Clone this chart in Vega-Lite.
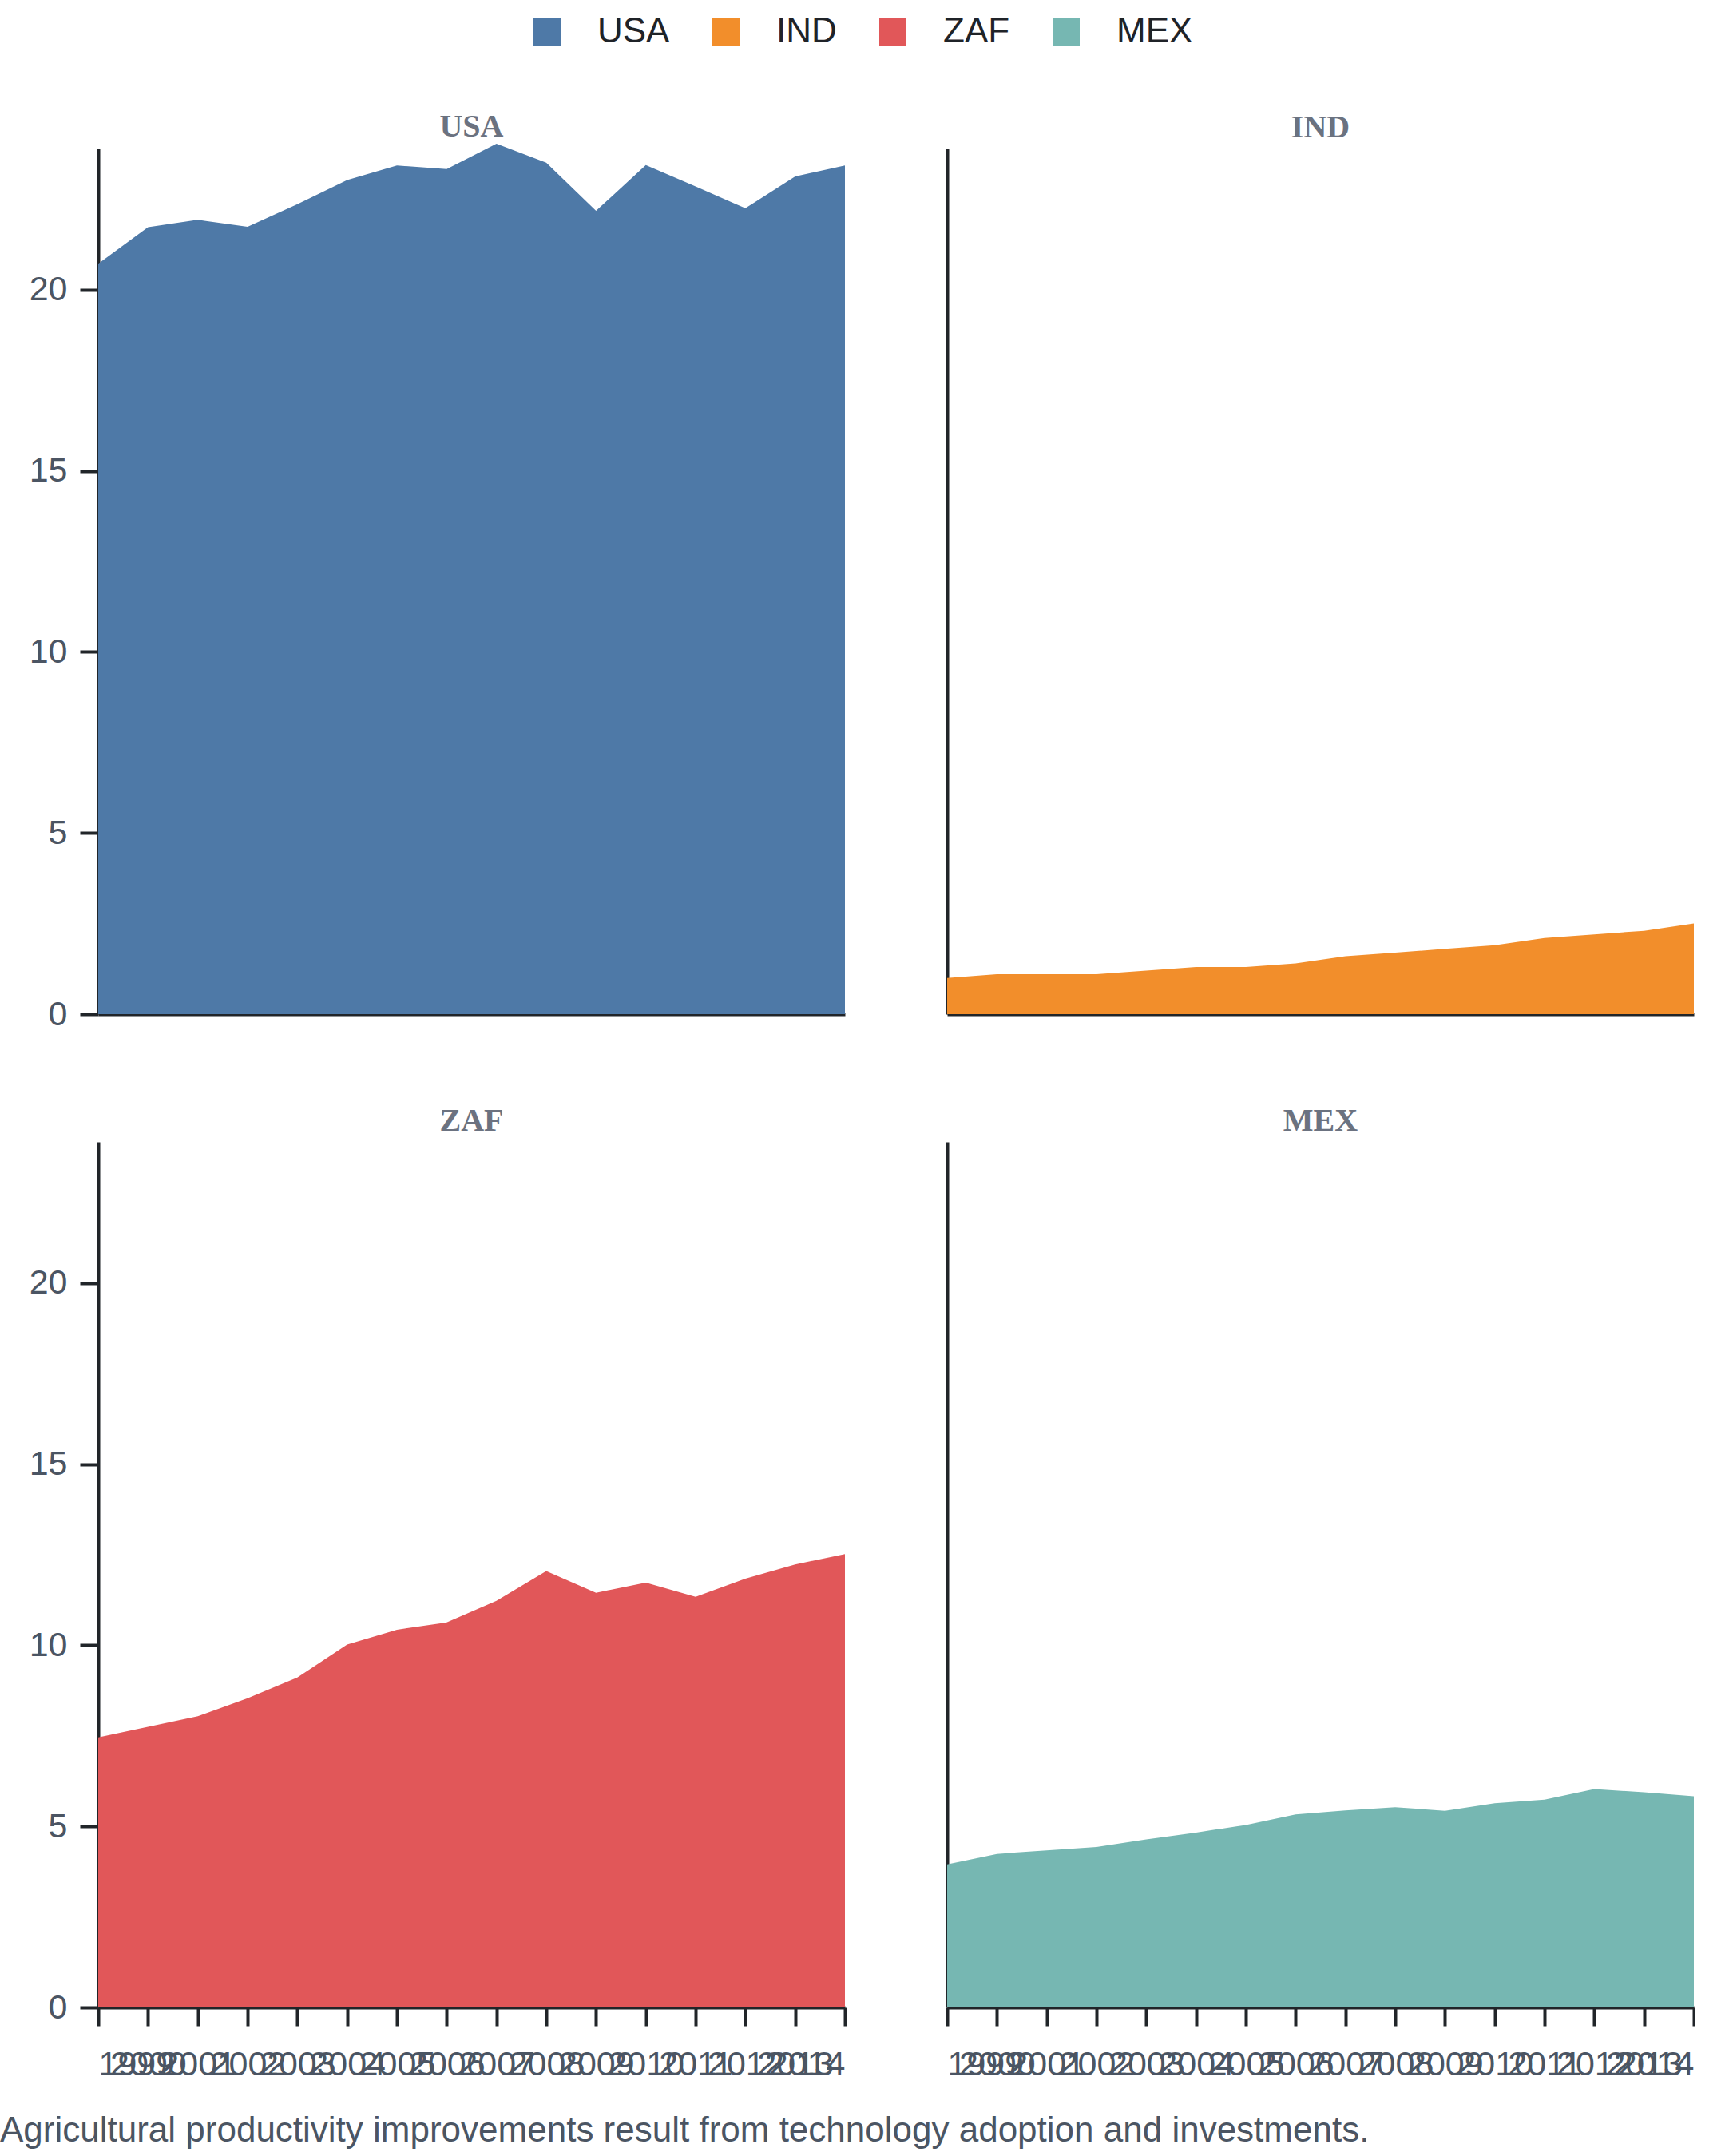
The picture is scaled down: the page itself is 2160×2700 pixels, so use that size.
{
  "$schema": "https://vega.github.io/schema/vega-lite/v6.json",
  "padding": {"top": 18, "left": 0, "right": 0, "bottom": 0},
  "background": "white",
  "title": {
    "text": "Agricultural productivity improvements result from technology adoption and investments.",
    "orient": "bottom",
    "anchor": "start",
    "font": "Liberation Sans",
    "fontSize": 44,
    "fontWeight": "normal",
    "color": "#4b5563",
    "offset": 40
  },
  "data": {
    "values": [
      {"country": "USA", "year": 1999, "value": 20.72},
      {"country": "USA", "year": 2000, "value": 21.73},
      {"country": "USA", "year": 2001, "value": 21.93},
      {"country": "USA", "year": 2002, "value": 21.74},
      {"country": "USA", "year": 2003, "value": 22.36},
      {"country": "USA", "year": 2004, "value": 23.03},
      {"country": "USA", "year": 2005, "value": 23.43},
      {"country": "USA", "year": 2006, "value": 23.33},
      {"country": "USA", "year": 2007, "value": 24.03},
      {"country": "USA", "year": 2008, "value": 23.51},
      {"country": "USA", "year": 2009, "value": 22.18},
      {"country": "USA", "year": 2010, "value": 23.44},
      {"country": "USA", "year": 2011, "value": 22.85},
      {"country": "USA", "year": 2012, "value": 22.25},
      {"country": "USA", "year": 2013, "value": 23.13},
      {"country": "USA", "year": 2014, "value": 23.43},
      {"country": "IND", "year": 1999, "value": 1.0},
      {"country": "IND", "year": 2000, "value": 1.1},
      {"country": "IND", "year": 2001, "value": 1.1},
      {"country": "IND", "year": 2002, "value": 1.1},
      {"country": "IND", "year": 2003, "value": 1.2},
      {"country": "IND", "year": 2004, "value": 1.3},
      {"country": "IND", "year": 2005, "value": 1.3},
      {"country": "IND", "year": 2006, "value": 1.4},
      {"country": "IND", "year": 2007, "value": 1.6},
      {"country": "IND", "year": 2008, "value": 1.7},
      {"country": "IND", "year": 2009, "value": 1.8},
      {"country": "IND", "year": 2010, "value": 1.9},
      {"country": "IND", "year": 2011, "value": 2.1},
      {"country": "IND", "year": 2012, "value": 2.2},
      {"country": "IND", "year": 2013, "value": 2.3},
      {"country": "IND", "year": 2014, "value": 2.5},
      {"country": "ZAF", "year": 1999, "value": 7.46},
      {"country": "ZAF", "year": 2000, "value": 7.75},
      {"country": "ZAF", "year": 2001, "value": 8.04},
      {"country": "ZAF", "year": 2002, "value": 8.54},
      {"country": "ZAF", "year": 2003, "value": 9.11},
      {"country": "ZAF", "year": 2004, "value": 10.02},
      {"country": "ZAF", "year": 2005, "value": 10.43},
      {"country": "ZAF", "year": 2006, "value": 10.63},
      {"country": "ZAF", "year": 2007, "value": 11.23},
      {"country": "ZAF", "year": 2008, "value": 12.05},
      {"country": "ZAF", "year": 2009, "value": 11.45},
      {"country": "ZAF", "year": 2010, "value": 11.73},
      {"country": "ZAF", "year": 2011, "value": 11.34},
      {"country": "ZAF", "year": 2012, "value": 11.84},
      {"country": "ZAF", "year": 2013, "value": 12.23},
      {"country": "ZAF", "year": 2014, "value": 12.52},
      {"country": "MEX", "year": 1999, "value": 3.95},
      {"country": "MEX", "year": 2000, "value": 4.24},
      {"country": "MEX", "year": 2001, "value": 4.34},
      {"country": "MEX", "year": 2002, "value": 4.43},
      {"country": "MEX", "year": 2003, "value": 4.64},
      {"country": "MEX", "year": 2004, "value": 4.83},
      {"country": "MEX", "year": 2005, "value": 5.04},
      {"country": "MEX", "year": 2006, "value": 5.33},
      {"country": "MEX", "year": 2007, "value": 5.44},
      {"country": "MEX", "year": 2008, "value": 5.53},
      {"country": "MEX", "year": 2009, "value": 5.43},
      {"country": "MEX", "year": 2010, "value": 5.64},
      {"country": "MEX", "year": 2011, "value": 5.74},
      {"country": "MEX", "year": 2012, "value": 6.03},
      {"country": "MEX", "year": 2013, "value": 5.94},
      {"country": "MEX", "year": 2014, "value": 5.83}
    ]
  },
  "columns": 2,
  "spacing": {"row": 160, "column": 128},
  "bounds": "flush",
  "concat": [
    {
      "width": 935,
      "height": 1084,
      "title": {"text": "USA", "dy": 5},
      "transform": [{"filter": "datum.country === 'USA'"}],
      "mark": {"type": "area", "opacity": 1},
      "encoding": {
        "x": {"field": "year", "type": "quantitative", "scale": {"domain": [1999, 2014], "nice": false, "zero": false},
              "axis": {"labels": false, "ticks": false}},
        "y": {"field": "value", "type": "quantitative", "scale": {"domain": [0, 23.9], "nice": false},
              "axis": {"values": [0, 5, 10, 15, 20], "minExtent": 123}},
        "color": {"field": "country", "type": "nominal",
                  "scale": {"domain": ["USA", "IND", "ZAF", "MEX"], "range": ["#4e79a7", "#f28e2b", "#e15759", "#76b7b2"]},
                  "legend": {"orient": "none", "direction": "horizontal", "legendX": 540, "legendY": -168, "title": null,
                             "symbolType": "square", "symbolSize": 1156, "symbolStrokeWidth": 0, "symbolOpacity": 1,
                             "labelFont": "Liberation Sans", "labelFontSize": 44, "labelColor": "#1f2328",
                             "labelOffset": 41, "columnPadding": 48, "padding": 0}}
      }
    },
    {
      "width": 935,
      "height": 1084,
      "title": {"text": "IND"},
      "transform": [{"filter": "datum.country === 'IND'"}],
      "mark": {"type": "area", "opacity": 1},
      "encoding": {
        "x": {"field": "year", "type": "quantitative", "scale": {"domain": [1999, 2014], "nice": false, "zero": false},
              "axis": {"labels": false, "ticks": false}},
        "y": {"field": "value", "type": "quantitative", "scale": {"domain": [0, 23.9], "nice": false},
              "axis": {"labels": false, "ticks": false}},
        "color": {"field": "country", "type": "nominal",
                  "scale": {"domain": ["USA", "IND", "ZAF", "MEX"], "range": ["#4e79a7", "#f28e2b", "#e15759", "#76b7b2"]},
                  "legend": {"orient": "none", "direction": "horizontal", "legendX": 540, "legendY": -168, "title": null,
                             "symbolType": "square", "symbolSize": 1156, "symbolStrokeWidth": 0, "symbolOpacity": 1,
                             "labelFont": "Liberation Sans", "labelFontSize": 44, "labelColor": "#1f2328",
                             "labelOffset": 41, "columnPadding": 48, "padding": 0}}
      }
    },
    {
      "width": 935,
      "height": 1084,
      "title": {"text": "ZAF"},
      "transform": [{"filter": "datum.country === 'ZAF'"}],
      "mark": {"type": "area", "opacity": 1},
      "encoding": {
        "x": {"field": "year", "type": "quantitative", "scale": {"domain": [1999, 2014], "nice": false, "zero": false},
              "axis": {"values": [1999, 2000, 2001, 2002, 2003, 2004, 2005, 2006, 2007, 2008, 2009, 2010, 2011, 2012, 2013, 2014],
                       "format": "d", "labelOverlap": false, "labelBound": false, "labelFlush": true, "labelPadding": 27}},
        "y": {"field": "value", "type": "quantitative", "scale": {"domain": [0, 23.9], "nice": false},
              "axis": {"values": [0, 5, 10, 15, 20], "minExtent": 123}},
        "color": {"field": "country", "type": "nominal",
                  "scale": {"domain": ["USA", "IND", "ZAF", "MEX"], "range": ["#4e79a7", "#f28e2b", "#e15759", "#76b7b2"]},
                  "legend": {"orient": "none", "direction": "horizontal", "legendX": 540, "legendY": -168, "title": null,
                             "symbolType": "square", "symbolSize": 1156, "symbolStrokeWidth": 0, "symbolOpacity": 1,
                             "labelFont": "Liberation Sans", "labelFontSize": 44, "labelColor": "#1f2328",
                             "labelOffset": 41, "columnPadding": 48, "padding": 0}}
      }
    },
    {
      "width": 935,
      "height": 1084,
      "title": {"text": "MEX"},
      "transform": [{"filter": "datum.country === 'MEX'"}],
      "mark": {"type": "area", "opacity": 1},
      "encoding": {
        "x": {"field": "year", "type": "quantitative", "scale": {"domain": [1999, 2014], "nice": false, "zero": false},
              "axis": {"values": [1999, 2000, 2001, 2002, 2003, 2004, 2005, 2006, 2007, 2008, 2009, 2010, 2011, 2012, 2013, 2014],
                       "format": "d", "labelOverlap": false, "labelBound": false, "labelFlush": true, "labelPadding": 27}},
        "y": {"field": "value", "type": "quantitative", "scale": {"domain": [0, 23.9], "nice": false},
              "axis": {"labels": false, "ticks": false}},
        "color": {"field": "country", "type": "nominal",
                  "scale": {"domain": ["USA", "IND", "ZAF", "MEX"], "range": ["#4e79a7", "#f28e2b", "#e15759", "#76b7b2"]},
                  "legend": {"orient": "none", "direction": "horizontal", "legendX": 540, "legendY": -168, "title": null,
                             "symbolType": "square", "symbolSize": 1156, "symbolStrokeWidth": 0, "symbolOpacity": 1,
                             "labelFont": "Liberation Sans", "labelFontSize": 44, "labelColor": "#1f2328",
                             "labelOffset": 41, "columnPadding": 48, "padding": 0}}
      }
    }
  ],
  "config": {
    "view": {"stroke": null},
    "axis": {
      "title": null,
      "grid": false,
      "domainColor": "#212529",
      "domainWidth": 4,
      "tickColor": "#212529",
      "tickWidth": 4,
      "tickSize": 23,
      "labelFont": "Liberation Sans",
      "labelFontSize": 43,
      "labelColor": "#4b5563",
      "labelPadding": 16
    },
    "title": {
      "font": "Liberation Serif",
      "fontSize": 40,
      "fontWeight": "bold",
      "color": "#6b7280",
      "offset": 6,
      "anchor": "middle"
    }
  }
}
